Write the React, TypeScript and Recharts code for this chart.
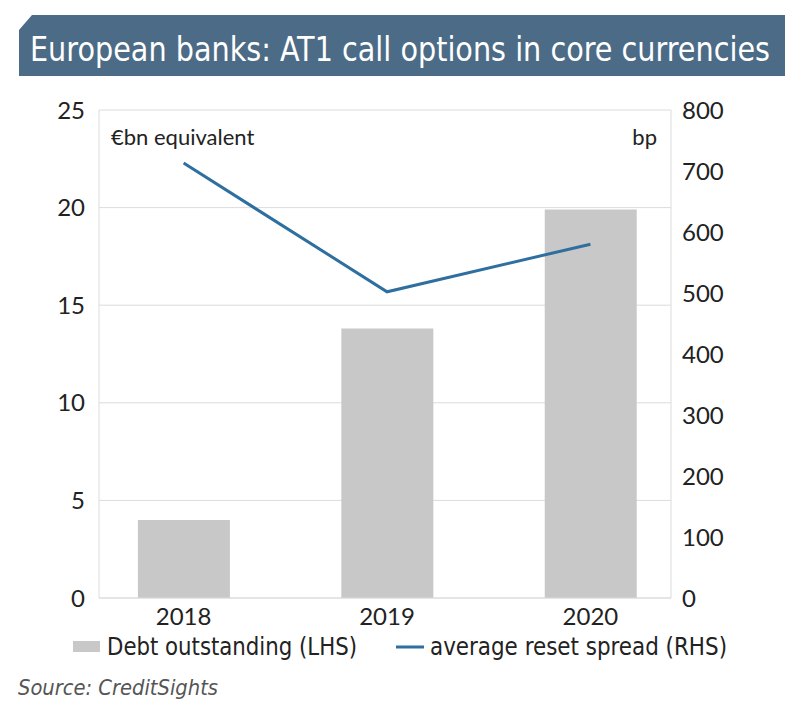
import { ComposedChart, Bar, Line, XAxis, YAxis, CartesianGrid } from 'recharts';

// values
const years = [2018, 2019, 2020];
const debtOutstanding = [4.0, 13.8, 19.9]; // €bn, LHS
const resetSpread = [713, 502, 580]; // bp, RHS
const leftTicks = [0, 5, 10, 15, 20, 25];
const rightTicks = [0, 100, 200, 300, 400, 500, 600, 700, 800];

const chartData = years.map((year, i) => ({
  year,
  debt: debtOutstanding[i],
  spread: resetSpread[i],
}));

const BAR_COLOR = '#c8c8c8';
const LINE_COLOR = '#2f6f9f';
const TITLE_BG = '#4c6b86';
const TEXT = '#222222';
const GRID = '#dcdcdc';
const TICK_FONT = 'Lato, "Open Sans", sans-serif';
const NARROW_FONT = '"DejaVu Sans Condensed", "DejaVu Sans", sans-serif';

if (typeof document !== 'undefined') {
  document.body.style.margin = '0';
}

export default function App() {
  const tickStyle = { fill: TEXT, fontSize: 24, fontFamily: TICK_FONT };

  return (
    <div style={{ position: 'relative', width: 800, height: 717, background: '#fff', overflow: 'hidden' }}>
      {/* Title bar with the clipped top-left corner */}
      <div
        style={{
          position: 'absolute',
          left: 19,
          top: 15,
          width: 766,
          height: 61,
          background: TITLE_BG,
          clipPath: 'polygon(13px 0, 100% 0, 100% 100%, 0 100%, 0 15px)',
        }}
      />

      <div style={{ position: 'absolute', left: 0, top: 0 }}>
        <ComposedChart
          width={800}
          height={717}
          data={chartData}
          margin={{ top: 110, right: 0, bottom: 89, left: 0 }}
        >
          <CartesianGrid yAxisId="left" vertical={false} stroke={GRID} />
          <XAxis
            dataKey="year"
            type="number"
            domain={[2017.584, 2020.396]}
            ticks={years}
            allowDataOverflow
            height={30}
            tickLine={false}
            axisLine={{ stroke: GRID }}
            tick={tickStyle}
            tickMargin={4}
          />
          <YAxis
            yAxisId="left"
            orientation="left"
            width={99}
            domain={[0, 25]}
            ticks={leftTicks}
            tickLine={false}
            axisLine={{ stroke: GRID }}
            tick={tickStyle}
            tickMargin={8}
          />
          <YAxis
            yAxisId="right"
            orientation="right"
            width={129}
            domain={[0, 800]}
            ticks={rightTicks}
            tickLine={false}
            axisLine={{ stroke: GRID }}
            tick={tickStyle}
            tickMargin={5}
          />
          <Bar yAxisId="left" dataKey="debt" fill={BAR_COLOR} barSize={92} isAnimationActive={false} />
          <Line
            yAxisId="right"
            dataKey="spread"
            type="linear"
            stroke={LINE_COLOR}
            strokeWidth={3}
            dot={false}
            isAnimationActive={false}
          />
          <text x={111} y={145} fill={TEXT} fontSize={22} fontFamily={TICK_FONT}>
            €bn equivalent
          </text>
          <text x={657} y={145} fill={TEXT} fontSize={22} fontFamily={TICK_FONT} textAnchor="end">
            bp
          </text>
        </ComposedChart>
      </div>

      {/* Title, legend and source in narrow type */}
      <svg width={800} height={717} style={{ position: 'absolute', left: 0, top: 0, pointerEvents: 'none' }}>
        <text
          x={30}
          y={61}
          fill="#fff"
          fontSize={33}
          fontFamily={NARROW_FONT}
          textLength={740}
          lengthAdjust="spacingAndGlyphs"
        >
          European banks: AT1 call options in core currencies
        </text>

        <rect x={73} y={641} width={27} height={11} fill={BAR_COLOR} />
        <text
          x={107}
          y={655}
          fill={TEXT}
          fontSize={25}
          fontFamily={NARROW_FONT}
          textLength={250}
          lengthAdjust="spacingAndGlyphs"
        >
          Debt outstanding (LHS)
        </text>
        <line x1={396} x2={424} y1={647} y2={647} stroke={LINE_COLOR} strokeWidth={3} />
        <text
          x={430}
          y={655}
          fill={TEXT}
          fontSize={25}
          fontFamily={NARROW_FONT}
          textLength={297}
          lengthAdjust="spacingAndGlyphs"
        >
          average reset spread (RHS)
        </text>

        <text
          x={18}
          y={695}
          fill="#555"
          fontSize={22}
          fontStyle="italic"
          fontFamily={NARROW_FONT}
          textLength={200}
          lengthAdjust="spacingAndGlyphs"
        >
          Source: CreditSights
        </text>
      </svg>
    </div>
  );
}
